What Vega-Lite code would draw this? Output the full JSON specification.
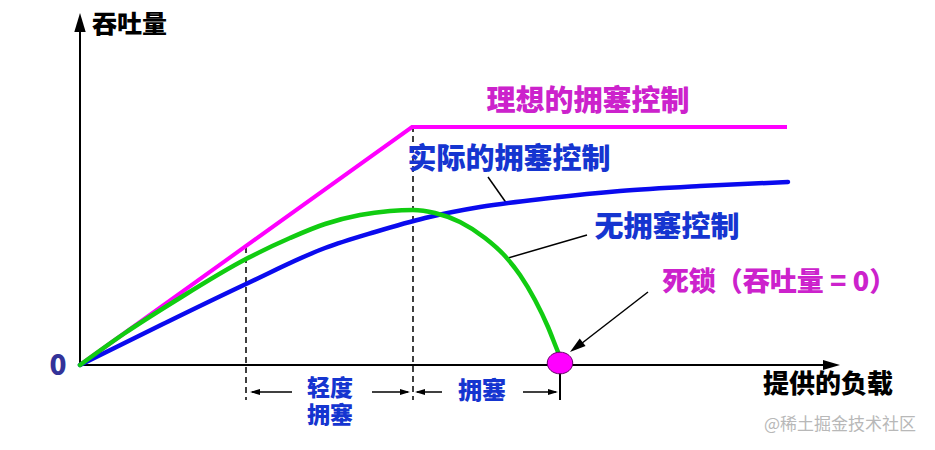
{
  "$schema": "https://vega.github.io/schema/vega-lite/v6.json",
  "width": 935,
  "height": 450,
  "autosize": {"type": "fit", "contains": "padding"},
  "padding": 0,
  "background": "white",
  "config": {"view": {"stroke": null}},
  "datasets": {
    "curves": [
      {"s": "ideal", "x": 0, "y": 0}, {"s": "ideal", "x": 332, "y": 238}, {"s": "ideal", "x": 707, "y": 238},
      {"s": "actual", "x": 0, "y": 0}, {"s": "actual", "x": 83, "y": 41}, {"s": "actual", "x": 166, "y": 81},
      {"s": "actual", "x": 245, "y": 117}, {"s": "actual", "x": 295, "y": 133}, {"s": "actual", "x": 345, "y": 147},
      {"s": "actual", "x": 400, "y": 158}, {"s": "actual", "x": 470, "y": 167}, {"s": "actual", "x": 540, "y": 174},
      {"s": "actual", "x": 620, "y": 179}, {"s": "actual", "x": 708, "y": 183},
      {"s": "none", "x": 0, "y": 0}, {"s": "none", "x": 45, "y": 32}, {"s": "none", "x": 95, "y": 64},
      {"s": "none", "x": 166, "y": 106}, {"s": "none", "x": 210, "y": 127}, {"s": "none", "x": 245, "y": 141},
      {"s": "none", "x": 280, "y": 150}, {"s": "none", "x": 310, "y": 154},
      {"s": "none", "x": 333, "y": 155}, {"s": "none", "x": 355, "y": 152}, {"s": "none", "x": 380, "y": 143},
      {"s": "none", "x": 405, "y": 127}, {"s": "none", "x": 425, "y": 109}, {"s": "none", "x": 440, "y": 90},
      {"s": "none", "x": 455, "y": 65}, {"s": "none", "x": 468, "y": 38}, {"s": "none", "x": 476, "y": 18},
      {"s": "none", "x": 480, "y": 8}
    ],
    "rules": [
      {"k": "axis", "x": 0, "y": 0, "x2": 0, "y2": 335},
      {"k": "axis", "x": 0, "y": 0, "x2": 745, "y2": 0},
      {"k": "axis", "x": 480, "y": -5, "x2": 480, "y2": -35},
      {"k": "dash", "x": 166, "y": 118, "x2": 166, "y2": -35},
      {"k": "dash", "x": 333, "y": 239, "x2": 333, "y2": -35},
      {"k": "thin", "x": 172, "y": -27, "x2": 212, "y2": -27},
      {"k": "thin", "x": 292, "y": -27, "x2": 328, "y2": -27},
      {"k": "thin", "x": 337, "y": -27, "x2": 362, "y2": -27},
      {"k": "thin", "x": 443, "y": -27, "x2": 476, "y2": -27},
      {"k": "thin", "x": 408, "y": 188, "x2": 427, "y2": 161},
      {"k": "thin", "x": 507, "y": 130, "x2": 428, "y2": 107},
      {"k": "thin", "x": 568, "y": 73, "x2": 497, "y2": 18}
    ],
    "heads": [
      {"x": 0, "y": 342.5, "a": 0, "sz": 361},
      {"x": 751.5, "y": 0, "a": 90, "sz": 289},
      {"x": 175, "y": -27, "a": 270, "sz": 100},
      {"x": 325, "y": -27, "a": 90, "sz": 100},
      {"x": 340, "y": -27, "a": 270, "sz": 100},
      {"x": 473, "y": -27, "a": 90, "sz": 100},
      {"x": 496.3, "y": 17.9, "a": 232.4, "sz": 256}
    ],
    "labels": [
      {"t": "提供的负载", "x": 748, "y": -20, "c": "#000000", "fs": 26},
      {"t": "0", "x": -22, "y": -2, "c": "#333399", "fs": 28},
      {"t": "理想的拥塞控制", "x": 508, "y": 263, "c": "#CC22CC", "fs": 29},
      {"t": "实际的拥塞控制", "x": 429, "y": 205, "c": "#1535D0", "fs": 29},
      {"t": "无拥塞控制", "x": 587, "y": 137, "c": "#1535D0", "fs": 29},
      {"t": "死锁（吞吐量 = 0）", "x": 699, "y": 82, "c": "#CC22CC", "fs": 27},
      {"t": "轻度", "x": 250, "y": -24, "c": "#1535D0", "fs": 23},
      {"t": "拥塞", "x": 250, "y": -51, "c": "#1535D0", "fs": 23},
      {"t": "拥塞", "x": 402, "y": -27, "c": "#1535D0", "fs": 24}
    ],
    "ylab": [
      {"t": "吞吐量", "x": 12, "y": 340}
    ],
    "wm": [
      {"t": "@稀土掘金技术社区", "x": 760, "y": -60}
    ],
    "dot": [{"x": 480, "y": 2}]
  },
  "encoding": {
    "x": {"field": "x", "type": "quantitative", "scale": {"domain": [-80, 855], "nice": false, "zero": false}, "axis": null},
    "y": {"field": "y", "type": "quantitative", "scale": {"domain": [-85, 365], "nice": false, "zero": false}, "axis": null}
  },
  "layer": [
    {
      "data": {"name": "rules"},
      "transform": [{"filter": "datum.k === 'dash'"}],
      "mark": {"type": "rule", "color": "#000000", "strokeWidth": 1.5, "strokeDash": [6, 4]},
      "encoding": {"x2": {"field": "x2"}, "y2": {"field": "y2"}}
    },
    {
      "data": {"name": "rules"},
      "transform": [{"filter": "datum.k === 'axis'"}],
      "mark": {"type": "rule", "color": "#000000", "strokeWidth": 2},
      "encoding": {"x2": {"field": "x2"}, "y2": {"field": "y2"}}
    },
    {
      "data": {"name": "rules"},
      "transform": [{"filter": "datum.k === 'thin'"}],
      "mark": {"type": "rule", "color": "#000000", "strokeWidth": 1.5},
      "encoding": {"x2": {"field": "x2"}, "y2": {"field": "y2"}}
    },
    {
      "data": {"name": "curves"},
      "transform": [{"filter": "datum.s === 'ideal'"}],
      "mark": {"type": "line", "color": "#FF00FF", "strokeWidth": 4, "strokeCap": "butt"},
      "encoding": {}
    },
    {
      "data": {"name": "curves"},
      "transform": [{"filter": "datum.s === 'actual'"}],
      "mark": {"type": "line", "color": "#0A0AEE", "strokeWidth": 4.5, "strokeCap": "round", "interpolate": "monotone"},
      "encoding": {}
    },
    {
      "data": {"name": "curves"},
      "transform": [{"filter": "datum.s === 'none'"}],
      "mark": {"type": "line", "color": "#11CC11", "strokeWidth": 4.5, "strokeCap": "round", "interpolate": "monotone"},
      "encoding": {}
    },
    {
      "data": {"name": "heads"},
      "mark": {"type": "point", "shape": "M 0 -1 L 0.6 1 L -0.6 1 Z", "filled": true, "color": "#000000", "opacity": 1},
      "encoding": {
        "angle": {"field": "a", "type": "quantitative", "scale": null},
        "size": {"field": "sz", "type": "quantitative", "scale": null}
      }
    },
    {
      "data": {"name": "dot"},
      "mark": {"type": "point", "shape": "M -1 0 A 1 0.85 0 1 0 1 0 A 1 0.85 0 1 0 -1 0 Z", "filled": true, "fill": "#FF00FF", "stroke": "#660066", "strokeWidth": 1, "size": 650, "opacity": 1}
    },
    {
      "data": {"name": "labels"},
      "mark": {"type": "text", "baseline": "middle", "align": "center", "font": "Noto Sans CJK SC", "fontWeight": 900},
      "encoding": {
        "text": {"field": "t"},
        "color": {"field": "c", "type": "nominal", "scale": null},
        "size": {"field": "fs", "type": "quantitative", "scale": null}
      }
    },
    {
      "data": {"name": "ylab"},
      "mark": {"type": "text", "baseline": "middle", "align": "left", "font": "Noto Sans CJK SC", "fontWeight": 900, "fontSize": 25, "color": "#000000"},
      "encoding": {"text": {"field": "t"}}
    },
    {
      "data": {"name": "wm"},
      "mark": {"type": "text", "baseline": "middle", "align": "center", "font": "Noto Sans CJK SC", "fontWeight": "normal", "fontSize": 17, "color": "#b8b8b8"},
      "encoding": {"text": {"field": "t"}}
    }
  ]
}
